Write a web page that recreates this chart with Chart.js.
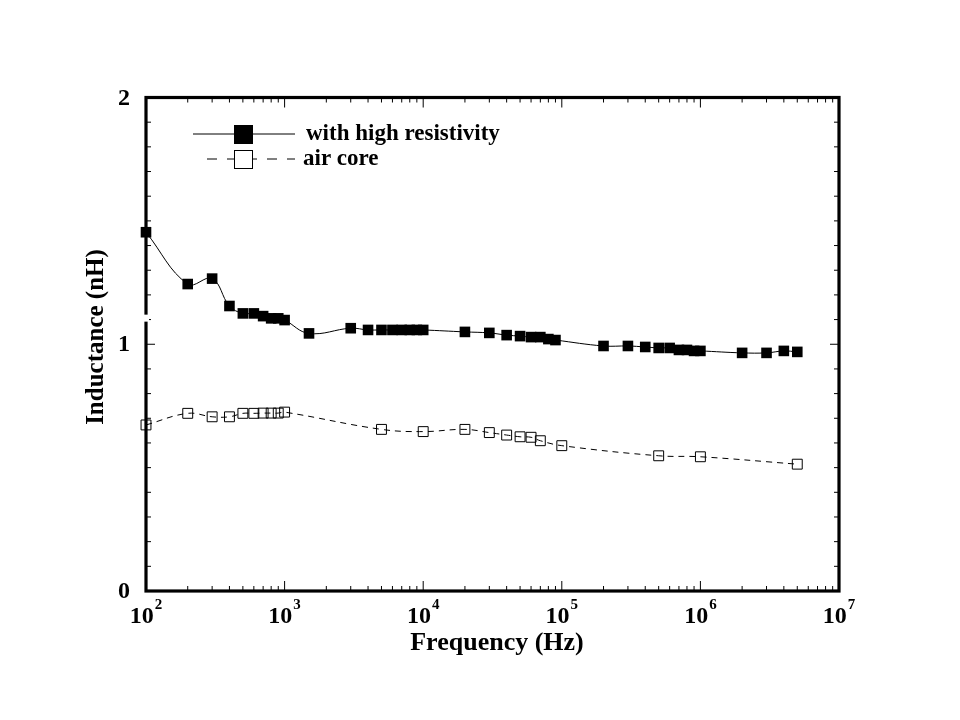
<!DOCTYPE html>
<html>
<head>
<meta charset="utf-8">
<title>Inductance vs Frequency</title>
<script src="https://cdn.jsdelivr.net/npm/chart.js@4.4.0/dist/chart.umd.min.js"></script>
<style>
  body { margin: 0; background: #fff; }
  #wrap { width: 960px; height: 720px; }
</style>
</head>
<body>
<div id="wrap"><canvas id="chart" width="960" height="720"></canvas></div>
<script>
// values
const highResFreq = [100, 200, 300, 400, 500, 600, 700, 800, 900, 1000, 1500, 3000, 4000, 5000, 6000, 7000, 8000, 9000, 10000,
  20000, 30000, 40000, 50000, 60000, 70000, 80000, 90000,
  200000, 300000, 400000, 500000, 600000, 700000, 800000, 900000, 1000000,
  2000000, 3000000, 4000000, 5000000];
const highResL = [1.454, 1.244, 1.266, 1.155, 1.125, 1.125, 1.114, 1.105, 1.105, 1.098, 1.044, 1.065, 1.058, 1.058, 1.058, 1.058, 1.058, 1.058, 1.058,
  1.050, 1.046, 1.037, 1.033, 1.029, 1.029, 1.021, 1.017,
  0.993, 0.993, 0.989, 0.985, 0.985, 0.977, 0.977, 0.973, 0.973,
  0.965, 0.965, 0.973, 0.969];

const airFreq = [100, 200, 300, 400, 500, 600, 700, 800, 900, 1000, 5000, 10000,
  20000, 30000, 40000, 50000, 60000, 70000, 100000, 500000, 1000000, 5000000];
const airL = [0.673, 0.720, 0.706, 0.706, 0.720, 0.720, 0.721, 0.721, 0.721, 0.725, 0.655, 0.646,
  0.655, 0.642, 0.632, 0.625, 0.623, 0.609, 0.589, 0.548, 0.544, 0.514];

const seriesNames = ["with high resistivity", "air core"];
const xTickExponents = [2, 3, 4, 5, 6, 7];
const yTickLabels = ["0", "1", "2"];
const yMinorStep = 0.1;
const xTitle = "Frequency (Hz)";
const yTitle = "Inductance (nH)";

const FONT = '"Liberation Serif", "Times New Roman", serif';

function toPoints(xs, ys) {
  return xs.map((x, i) => ({ x: x, y: ys[i] }));
}

const framePlugin = {
  id: "frame",
  afterDraw(chart) {
    const ctx = chart.ctx;
    const xs = chart.scales.x;
    const ys = chart.scales.y;
    const a = chart.chartArea;
    ctx.save();
    ctx.strokeStyle = "#000";
    ctx.fillStyle = "#000";

    // inward ticks, x (bottom + top)
    ctx.lineWidth = 1;
    ctx.beginPath();
    xTickExponents.forEach((e, i) => {
      const major = xs.getPixelForValue(Math.pow(10, e));
      ctx.moveTo(major, a.bottom); ctx.lineTo(major, a.bottom - 10);
      ctx.moveTo(major, a.top); ctx.lineTo(major, a.top + 10);
      if (i < xTickExponents.length - 1) {
        for (let m = 2; m <= 9; m++) {
          const px = xs.getPixelForValue(m * Math.pow(10, e));
          ctx.moveTo(px, a.bottom); ctx.lineTo(px, a.bottom - 5);
          ctx.moveTo(px, a.top); ctx.lineTo(px, a.top + 5);
        }
      }
    });
    // y ticks (left + right)
    const nY = Math.round((ys.max - ys.min) / yMinorStep);
    for (let i = 0; i <= nY; i++) {
      const v = ys.min + i * yMinorStep;
      const len = (i % 10 === 0) ? 9 : 5;
      const py = ys.getPixelForValue(v);
      ctx.moveTo(a.left, py); ctx.lineTo(a.left + len, py);
      ctx.moveTo(a.right, py); ctx.lineTo(a.right - len, py);
    }
    ctx.stroke();

    // frame
    ctx.lineWidth = 3.2;
    ctx.strokeRect(a.left, a.top, a.right - a.left, a.bottom - a.top);
    // small break in the left axis
    ctx.fillStyle = "#fff";
    ctx.fillRect(a.left - 3, ys.getPixelForValue(1.12), 6, 7);
    ctx.fillStyle = "#000";

    // y tick labels
    ctx.font = "bold 24px " + FONT;
    ctx.textAlign = "right";
    ctx.textBaseline = "middle";
    yTickLabels.forEach((lab) => {
      ctx.fillText(lab, a.left - 16, ys.getPixelForValue(Number(lab)) + 1);
    });

    // x tick labels 10^n
    ctx.textBaseline = "alphabetic";
    ctx.textAlign = "left";
    xTickExponents.forEach((e) => {
      const px = xs.getPixelForValue(Math.pow(10, e));
      ctx.font = "bold 24px " + FONT;
      const w1 = ctx.measureText("10").width;
      ctx.font = "bold 15px " + FONT;
      const w2 = ctx.measureText(String(e)).width;
      const x0 = px - (w1 + w2 + 1) / 2;
      ctx.font = "bold 24px " + FONT;
      ctx.fillText("10", x0, a.bottom + 32);
      ctx.font = "bold 15px " + FONT;
      ctx.fillText(String(e), x0 + w1 + 1, a.bottom + 18);
    });

    // axis titles
    ctx.font = "bold 26px " + FONT;
    ctx.textAlign = "center";
    ctx.fillText(xTitle, 497, a.bottom + 59);
    ctx.save();
    ctx.translate(97, 337);
    ctx.rotate(-Math.PI / 2);
    ctx.font = "bold 25px " + FONT;
    ctx.textBaseline = "middle";
    ctx.fillText(yTitle, 0, 0);
    ctx.restore();

    // legend
    ctx.lineWidth = 1;
    ctx.beginPath();
    ctx.moveTo(193, 134); ctx.lineTo(295, 134);
    ctx.stroke();
    ctx.fillRect(234, 125, 19, 19);
    ctx.setLineDash([10, 10]);
    ctx.beginPath();
    ctx.moveTo(207, 159); ctx.lineTo(295, 159);
    ctx.stroke();
    ctx.setLineDash([]);
    ctx.fillStyle = "#fff";
    ctx.fillRect(234, 150, 18, 18);
    ctx.strokeRect(234.5, 150.5, 18, 18);
    ctx.fillStyle = "#000";
    ctx.font = "bold 23px " + FONT;
    ctx.textAlign = "left";
    ctx.textBaseline = "middle";
    ctx.fillText(seriesNames[0], 306, 134);
    ctx.fillText(seriesNames[1], 303, 159);

    ctx.restore();
  }
};

function renderChart() {
  const ctx = document.getElementById("chart").getContext("2d");
  new Chart(ctx, {
    type: "line",
    data: {
      datasets: [{
        label: seriesNames[0],
        data: toPoints(highResFreq, highResL),
        borderColor: "#000",
        borderWidth: 1,
        tension: 0.4,
        pointStyle: "rect",
        pointRadius: 7.5,
        pointBackgroundColor: "#000",
        pointBorderColor: "#000",
        pointBorderWidth: 0,
        clip: false
      }, {
        label: seriesNames[1],
        data: toPoints(airFreq, airL),
        borderColor: "#000",
        borderWidth: 1,
        borderDash: [6, 5],
        tension: 0.4,
        pointStyle: "rect",
        pointRadius: 7,
        pointBackgroundColor: "rgba(0,0,0,0)",
        pointBorderColor: "#000",
        pointBorderWidth: 1,
        clip: false
      }]
    },
    options: {
      responsive: false,
      animation: false,
      devicePixelRatio: 1,
      layout: { padding: { left: 146, right: 121, top: 97.5, bottom: 129 } },
      scales: {
        x: { type: "logarithmic", min: 100, max: 1e7, display: false },
        y: { type: "linear", min: 0, max: 2, display: false }
      },
      plugins: {
        legend: { display: false },
        tooltip: { enabled: false }
      }
    },
    plugins: [framePlugin]
  });
}

window.onload = renderChart;
</script>
</body>
</html>
